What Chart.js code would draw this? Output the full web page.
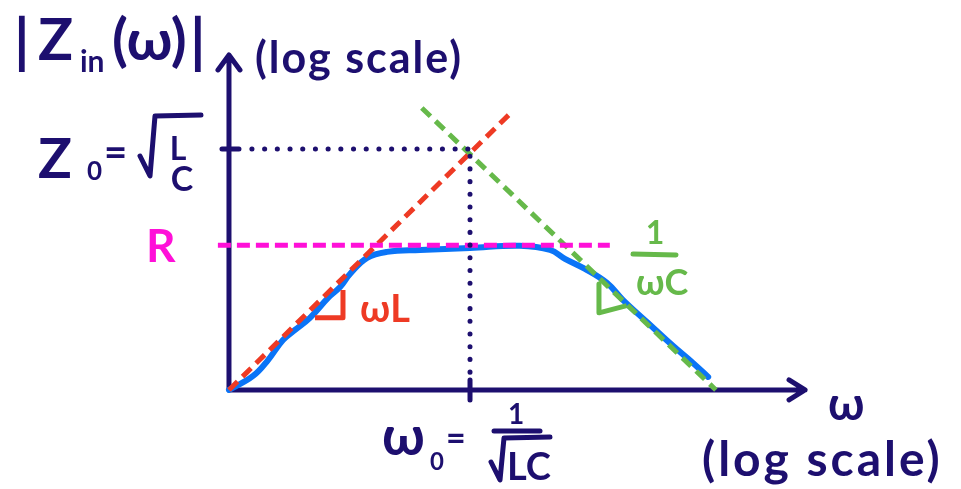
<!DOCTYPE html>
<html>
<head>
<meta charset="utf-8">
<script src="https://cdn.jsdelivr.net/npm/chart.js@4.4.0/dist/chart.umd.min.js"></script>
<style>
html, body { margin: 0; padding: 0; background: #fff; }
#wrap { width: 961px; height: 489px; }
</style>
</head>
<body>
<div id="wrap"><canvas id="zin"></canvas></div>
<script>
// both axes in log units measured from the origin: omega0 sits at x = 1, Z0 at y = 1
var zinCurve = [
  [0, 0], [0.10, 0.058], [0.162, 0.124], [0.224, 0.207], [0.274, 0.249],
  [0.336, 0.299], [0.411, 0.382], [0.461, 0.427], [0.502, 0.481], [0.573, 0.548],
  [0.656, 0.573], [0.793, 0.581], [1.0, 0.589], [1.207, 0.598], [1.332, 0.581],
  [1.394, 0.544], [1.477, 0.502], [1.568, 0.444], [1.635, 0.373], [1.734, 0.282],
  [1.842, 0.183], [1.925, 0.112], [1.988, 0.054]
];
var omegaL = [[0, 0], [1.18, 1.16]];
var invOmegaC = [[0.80, 1.17], [2.02, 0]];
var rLine = [[-0.046, 0.60], [1.58, 0.60]];
var z0Guide = [[0.095, 1], [0.995, 1]];
var omega0Guide = [[1, 0.97], [1, 0.05]];
var wlMark = [[0.357, 0.30], [0.473, 0.30], [0.473, 0.415]];
var wcMark = [[1.535, 0.44], [1.535, 0.32], [1.65, 0.35]];
var xAxisEnd = 2.39;
var yAxisEnd = 1.39;

var NAVY = '#1d0f6f';
var BLUE = '#0a74f7';
var RED = '#ee3a24';
var GREEN = '#66b94a';
var PINK = '#ff10d8';

function pts(arr) {
  return arr.map(function(p) { return { x: p[0], y: p[1] }; });
}

function line(arr, color, width, dash, extra) {
  var ds = {
    data: pts(arr),
    showLine: true,
    borderColor: color,
    borderWidth: width,
    borderDash: dash || [],
    borderCapStyle: dash && dash[0] < 1 ? 'round' : 'butt',
    borderJoinStyle: 'round',
    pointRadius: 0,
    fill: false
  };
  for (var k in extra) ds[k] = extra[k];
  return ds;
}

// axes with arrows and the two tick marks, then the labels
var axesPlugin = {
  id: 'axes',
  beforeDatasetsDraw: function(chart) {
    var ctx = chart.ctx, sx = chart.scales.x, sy = chart.scales.y;
    var x0 = sx.getPixelForValue(0), y0 = sy.getPixelForValue(0);
    var xe = sx.getPixelForValue(xAxisEnd), ye = sy.getPixelForValue(yAxisEnd);
    ctx.save();
    ctx.strokeStyle = NAVY;
    ctx.lineWidth = 5;
    ctx.lineCap = 'round';
    ctx.lineJoin = 'round';
    ctx.beginPath();
    ctx.moveTo(x0, y0); ctx.lineTo(x0, ye);
    ctx.moveTo(x0 - 11, ye + 15); ctx.lineTo(x0, ye); ctx.lineTo(x0 + 11, ye + 15);
    ctx.moveTo(x0, y0); ctx.lineTo(xe, y0);
    ctx.moveTo(xe - 16, y0 - 10); ctx.lineTo(xe, y0); ctx.lineTo(xe - 16, y0 + 10);
    var tz = sy.getPixelForValue(1), tw = sx.getPixelForValue(1);
    ctx.moveTo(x0 - 7, tz); ctx.lineTo(x0 + 10, tz);
    ctx.moveTo(tw, y0 - 10); ctx.lineTo(tw, y0 + 10);
    ctx.stroke();
    ctx.restore();
  },
  afterDraw: function(chart) {
    var ctx = chart.ctx;
    var F = '"Lato", "Noto Sans", sans-serif';
    function t(s, x, y, size, color, align, spacing) {
      ctx.font = 'bold ' + size + 'px ' + F;
      ctx.letterSpacing = spacing || '0px';
      ctx.fillStyle = color;
      ctx.textAlign = align || 'left';
      ctx.textBaseline = 'alphabetic';
      ctx.fillText(s, x, y);
    }
    function bar(x1, y1, x2, y2, color, w) {
      ctx.strokeStyle = color;
      ctx.lineWidth = w;
      ctx.lineCap = 'round';
      ctx.beginPath(); ctx.moveTo(x1, y1); ctx.lineTo(x2, y2); ctx.stroke();
    }
    ctx.save();
    // |Z_in(w)|
    t('|', 14, 62, 60, NAVY);
    t('Z', 38, 60, 58, NAVY);
    t('in', 80, 72, 30, NAVY);
    t('(ω)', 112, 60, 58, NAVY);
    t('|', 190, 62, 60, NAVY);
    t('(log scale)', 255, 73, 43, NAVY, 'left', '2px');
    // Z0 = sqrt(L/C)
    t('Z', 38, 178, 56, NAVY);
    t('0', 87, 180, 26, NAVY);
    t('=', 104, 166, 40, NAVY);
    ctx.strokeStyle = NAVY; ctx.lineWidth = 5; ctx.lineCap = 'round'; ctx.lineJoin = 'round';
    ctx.beginPath();
    ctx.moveTo(140, 156); ctx.lineTo(150, 176); ctx.lineTo(155, 116); ctx.lineTo(201, 115);
    ctx.stroke();
    t('L', 178, 160, 32, NAVY, 'center');
    t('C', 182, 191, 34, NAVY, 'center');
    // R
    t('R', 146, 262, 46, PINK);
    // wL
    t('ωL', 360, 322, 38, RED);
    // 1/(wC)
    t('1', 655, 244, 32, GREEN, 'center');
    bar(633, 254, 676, 255, GREEN, 5);
    t('ωC', 636, 295, 36, GREEN);
    // w0 = 1/sqrt(LC)
    t('ω', 382, 455, 54, NAVY);
    t('0', 430, 470, 24, NAVY);
    t('=', 446, 450, 34, NAVY);
    t('1', 516, 424, 28, NAVY, 'center');
    bar(494, 431, 540, 431, NAVY, 5);
    ctx.beginPath();
    ctx.moveTo(491, 462); ctx.lineTo(500, 480); ctx.lineTo(504, 438); ctx.lineTo(550, 437);
    ctx.stroke();
    t('LC', 507, 480, 38, NAVY);
    // w axis label
    t('ω', 828, 420, 46, NAVY);
    t('(log scale)', 702, 476, 48, NAVY, 'left', '3px');
    ctx.restore();
  }
};

new Chart(document.getElementById('zin'), {
  type: 'scatter',
  data: {
    datasets: [
      line(z0Guide, NAVY, 5, [0.1, 12.6]),
      line(omega0Guide, NAVY, 5, [0.1, 12.6]),
      line(rLine, PINK, 5, [13, 6]),
      line(omegaL, RED, 5, [12, 7]),
      line(invOmegaC, GREEN, 5, [12, 7]),
      line(wlMark, RED, 5, null),
      line(wcMark, GREEN, 5, null),
      line(zinCurve, BLUE, 6, null, { tension: 0.4, borderCapStyle: 'round' })
    ]
  },
  options: {
    responsive: true,
    maintainAspectRatio: false,
    animation: false,
    layout: { padding: 0 },
    plugins: { legend: { display: false }, tooltip: { enabled: false } },
    scales: {
      x: { type: 'linear', display: false, min: -0.950, max: 3.037 },
      y: { type: 'linear', display: false, min: -0.411, max: 1.618 }
    }
  },
  plugins: [axesPlugin]
});
</script>
</body>
</html>
